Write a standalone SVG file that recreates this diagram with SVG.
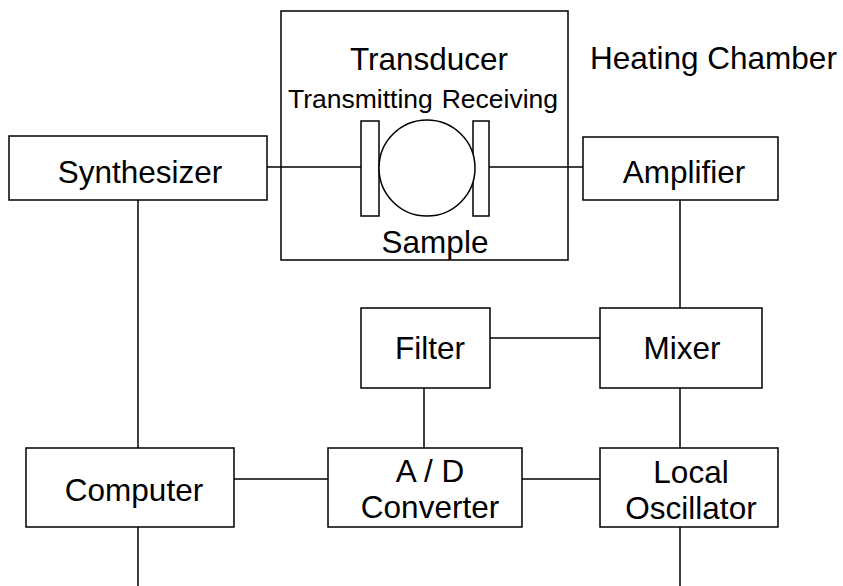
<svg xmlns="http://www.w3.org/2000/svg" width="843" height="586" viewBox="0 0 843 586">
<style>
.box{fill:#fff;stroke:#000;stroke-width:1.5}
.ln{stroke:#000;stroke-width:1.5;fill:none}
text{font-family:"Liberation Sans",Arial,sans-serif;font-size:31.5px;fill:#000}
.sm{font-size:26.5px}
.c{text-anchor:middle}
</style>
<rect width="843" height="586" fill="#fff"/>
<g id="chamber">
<rect class="box" x="281" y="11" width="287" height="249" fill="none" style="fill:none"/>
<text x="590" y="69">Heating Chamber</text>
</g>
<g id="connectors">
<line class="ln" x1="267" y1="167" x2="361" y2="167"/>
<line class="ln" x1="489" y1="167" x2="583" y2="167"/>
<line class="ln" x1="138" y1="200" x2="138" y2="448"/>
<line class="ln" x1="680" y1="200" x2="680" y2="308"/>
<line class="ln" x1="490" y1="338" x2="600" y2="338"/>
<line class="ln" x1="424" y1="388" x2="424" y2="448"/>
<line class="ln" x1="680" y1="388" x2="680" y2="448"/>
<line class="ln" x1="234" y1="479" x2="328" y2="479"/>
<line class="ln" x1="522" y1="479" x2="600" y2="479"/>
<line class="ln" x1="138" y1="527" x2="138" y2="586"/>
<line class="ln" x1="680" y1="527" x2="680" y2="586"/>
</g>
<g id="transducer">
<text class="c" x="429" y="70">Transducer</text>
<text class="sm" x="288" y="108">Transmitting</text>
<text class="sm" x="558" y="108" text-anchor="end">Receiving</text>
<rect class="box" x="361" y="121" width="18" height="95"/>
<rect class="box" x="473" y="121" width="16" height="95"/>
</g>
<g id="sample">
<circle class="box" cx="427" cy="168" r="48"/>
<text class="c" x="435" y="253">Sample</text>
</g>
<g id="synthesizer">
<rect class="box" x="9" y="136" width="258" height="64"/>
<text class="c" x="140" y="183">Synthesizer</text>
</g>
<g id="amplifier">
<rect class="box" x="583" y="137" width="195" height="63"/>
<text class="c" x="684" y="183">Amplifier</text>
</g>
<g id="filter">
<rect class="box" x="361" y="308" width="129" height="80"/>
<text class="c" x="430" y="359">Filter</text>
</g>
<g id="mixer">
<rect class="box" x="600" y="308" width="162" height="80"/>
<text class="c" x="682" y="359">Mixer</text>
</g>
<g id="computer">
<rect class="box" x="26" y="448" width="208" height="79"/>
<text class="c" x="134" y="501">Computer</text>
</g>
<g id="adconverter">
<rect class="box" x="328" y="448" width="194" height="79"/>
<text class="c" x="430" y="482">A / D</text>
<text class="c" x="430" y="518">Converter</text>
</g>
<g id="localoscillator">
<rect class="box" x="600" y="448" width="178" height="79"/>
<text class="c" x="691" y="483">Local</text>
<text class="c" x="691" y="519">Oscillator</text>
</g>
</svg>
